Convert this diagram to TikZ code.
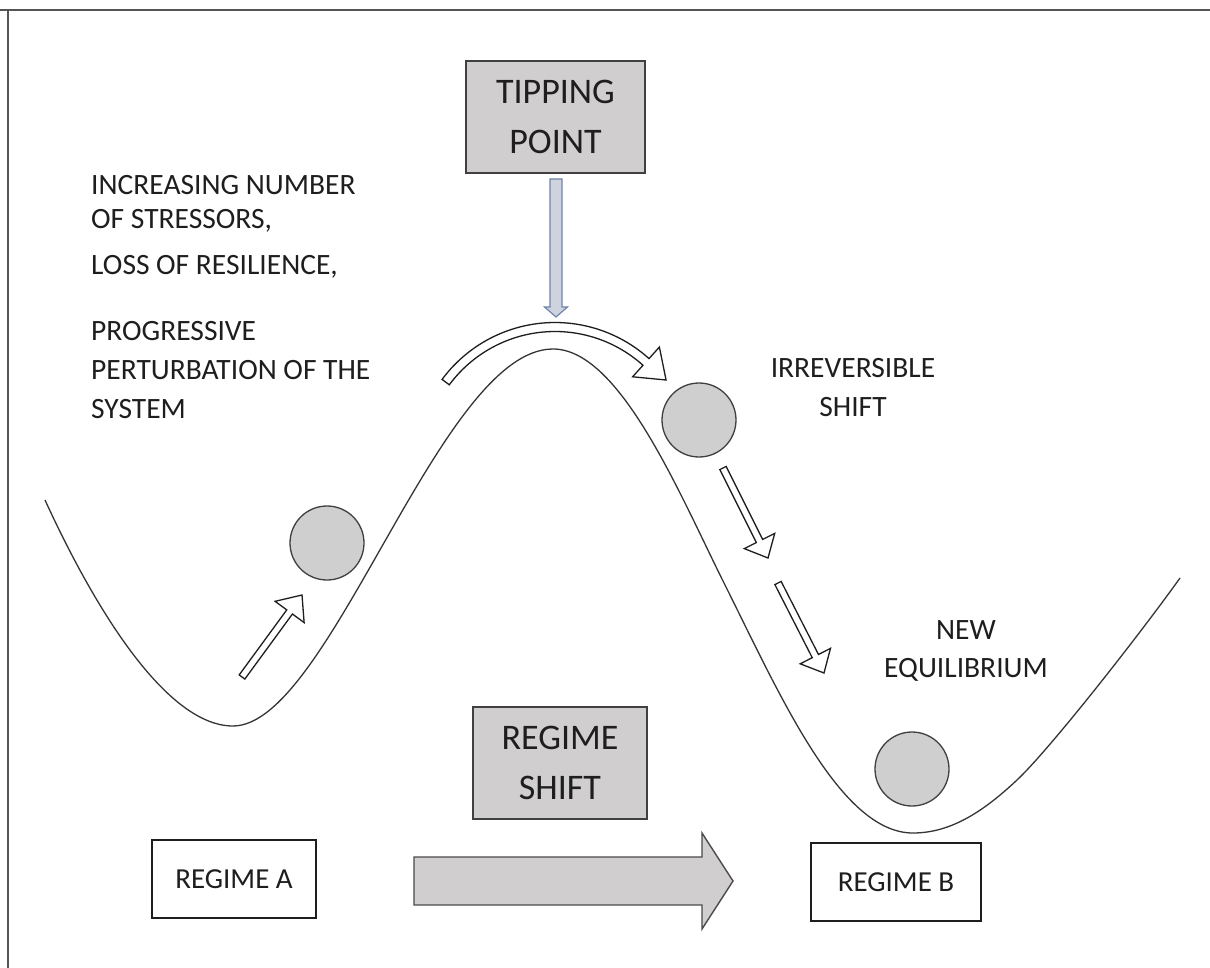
\documentclass[tikz,border=0pt]{standalone}
\usepackage{fontspec}
\setmainfont{Carlito}
\usetikzlibrary{calc}
\definecolor{boxgray}{RGB}{208,206,206}
\definecolor{ballgray}{RGB}{207,207,207}
\definecolor{arrfill}{RGB}{206,211,222}
\definecolor{arrline}{RGB}{112,132,170}
\definecolor{ink}{RGB}{30,30,30}
\definecolor{frameclr}{RGB}{85,85,85}
\newcommand\hollowarrow[6]{% #1 style, #2 tail, #3 tip, #4 shaft half width, #5 head half width, #6 head length
  \coordinate (hb) at ($(#3)!#6!(#2)$);
  \draw[#1] ($(#2)!#4!90:(#3)$) -- ($(hb)!#4!-90:(#2)$) -- ($(hb)!#5!-90:(#2)$) -- (#3)
    -- ($(hb)!#5!90:(#2)$) -- ($(hb)!#4!90:(#2)$) -- ($(#2)!#4!-90:(#3)$) -- cycle;
}
\begin{document}
\begin{tikzpicture}[x=1pt,y=-1pt,
  lbl/.style={font=\fontsize{29.5}{35}\selectfont, text=ink, inner sep=0pt},
  biglbl/.style={font=\fontsize{36}{50}\selectfont, text=ink, align=center},
  graybox/.style={draw=ink!85, line width=1.6pt, fill=boxgray, inner sep=0pt, biglbl},
  whitebox/.style={draw=ink, line width=1.4pt, fill=white, inner sep=0pt, font=\fontsize{29}{35}\selectfont, text=ink},
  ball/.style={circle, draw=ink!85, line width=1.3pt, fill=ballgray, minimum size=74pt, inner sep=0pt},
  hollow/.style={draw=ink, line width=1.3pt, fill=white, line join=miter},
  bluearrow/.style={draw=arrline, line width=1.2pt, fill=arrfill},
  bigarrow/.style={draw=ink!80, line width=1.4pt, fill=boxgray},
  landscape/.style={draw=ink!90, line width=1.3pt},
  framel/.style={draw=frameclr, line width=2pt}]
\useasboundingbox (0,0) rectangle (1210,968);
\fill[white] (0,0) rectangle (1210,968);
\draw[framel] (0,10) -- (1210,10);
\draw[framel] (8,10) -- (8,968);

% landscape curve
\coordinate (c0) at (45,500);
\coordinate (minA) at (233,726);
\coordinate (peak) at (553,349);
\coordinate (c3) at (724,583);
\coordinate (minB) at (913,833);
\coordinate (c5) at (1017,780);
\coordinate (c6) at (1180,578);
\draw[landscape] (c0) .. controls (100,620) and (170,726) .. (minA)
  .. controls (330,726) and (440,349) .. (peak)
  .. controls (620,349) and (680,495) .. (c3)
  .. controls (780,695) and (840,833) .. (minB)
  .. controls (952,833) and (985,810) .. (c5)
  .. controls (1050,749) and (1140,634) .. (c6);

% boxes
\node[graybox, minimum width=179pt, minimum height=112pt] (tp) at (555.5,117) {TIPPING\\POINT};
\node[graybox, minimum width=174pt, minimum height=112pt] (rs) at (560,763) {REGIME\\SHIFT};
\node[whitebox, minimum width=164pt, minimum height=78pt] (ra) at (234,879) {REGIME A};
\node[whitebox, minimum width=170pt, minimum height=78pt] (rb) at (896,882) {REGIME B};

% balls
\node[ball] (b1) at (327,543) {};
\node[ball] (b2) at (699,420) {};
\node[ball] (b3) at (912,769) {};

% left text
\node[lbl, anchor=base west] (t1) at (91,195) {INCREASING NUMBER};
\node[lbl, anchor=base west] (t2) at (91,229) {OF STRESSORS,};
\node[lbl, anchor=base west] (t3) at (91,275) {LOSS OF RESILIENCE,};
\node[lbl, anchor=base west] (t4) at (91,340) {PROGRESSIVE};
\node[lbl, anchor=base west] (t5) at (91,379) {PERTURBATION OF THE};
\node[lbl, anchor=base west] (t6) at (91,418) {SYSTEM};

% right texts
\node[lbl, anchor=base] (irr1) at (853,377) {IRREVERSIBLE};
\node[lbl, anchor=base] (irr2) at (853,416) {SHIFT};
\node[lbl, anchor=base] (ne1) at (966,639) {NEW};
\node[lbl, anchor=base] (ne2) at (966,677) {EQUILIBRIUM};

% tipping point down arrow
\coordinate (dt) at (556,179);
\coordinate (dh) at (556,317);
\hollowarrow{bluearrow}{dt}{dh}{6pt}{11.5pt}{10pt}

% small hollow arrows
\coordinate (a1t) at (242,677); \coordinate (a1h) at (302,595);
\coordinate (a2t) at (723,468); \coordinate (a2h) at (768,558);
\coordinate (a3t) at (778,583); \coordinate (a3h) at (824,673);
\hollowarrow{hollow}{a1t}{a1h}{3.5pt}{18pt}{21pt}
\hollowarrow{hollow}{a2t}{a2h}{3.5pt}{17pt}{19pt}
\hollowarrow{hollow}{a3t}{a3h}{3.5pt}{17pt}{19pt}

% curved arrow over the hill
\coordinate (C) at (555,463);
\draw[hollow] ($(C)+(-143.5:140.5)$) arc[start angle=-143.5, end angle=-48, radius=140.5]
  -- ($(C)+(-48:156)$) -- ($(C)+(-48:136)+(42:27)$) -- ($(C)+(-48:116)$)
  -- ($(C)+(-48:131.5)$) arc[start angle=-48, end angle=-143.5, radius=131.5] -- cycle;

% big regime arrow
\coordinate (bt) at (414,881);
\coordinate (bh) at (733,881);
\hollowarrow{bigarrow}{bt}{bh}{24pt}{48pt}{31pt}
\end{tikzpicture}
\end{document}
